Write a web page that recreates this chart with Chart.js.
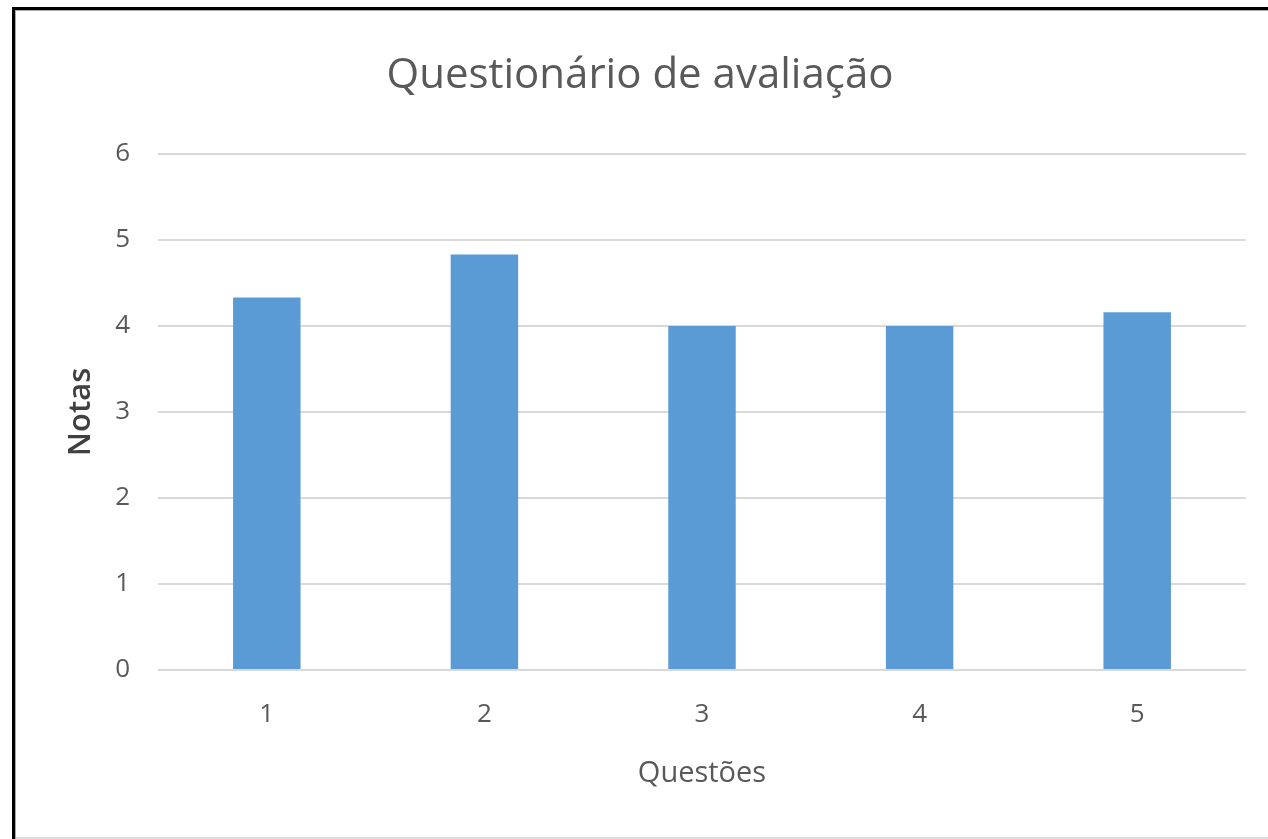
<!DOCTYPE html>
<html>
<head>
<meta charset="utf-8">
<script src="https://cdn.jsdelivr.net/npm/chart.js@4.4.0/dist/chart.umd.min.js"></script>
<style>
  html, body { margin: 0; padding: 0; background: #fff; }
  #wrap { position: relative; width: 1268px; height: 839px; overflow: hidden; }
  canvas { position: absolute; left: 0; top: 0; }
  .ln { position: absolute; pointer-events: none; }
</style>
</head>
<body>
<div id="wrap">
  <canvas id="c" width="1268" height="839"></canvas>
  <div class="ln" style="left:12px;top:7px;width:1256px;height:3px;background:#000"></div>
  <div class="ln" style="left:15px;top:10px;width:1253px;height:1px;background:#aaa"></div>
  <div class="ln" style="left:12px;top:7px;width:3px;height:832px;background:#000"></div>
  <div class="ln" style="left:15px;top:10px;width:1px;height:829px;background:#aaa"></div>
  <div class="ln" style="left:16px;top:837px;width:1252px;height:2px;background:#ddd"></div>
</div>
<script>
const categories = ['1', '2', '3', '4', '5'];
const notas = [4.33, 4.83, 4.0, 4.0, 4.16];
const yTicks = [0, 1, 2, 3, 4, 5, 6];
const chartTitle = 'Questionário de avaliação';
const xTitle = 'Questões';
const yTitle = 'Notas';

const FONT = "'Open Sans', 'Noto Sans', sans-serif";

new Chart(document.getElementById('c'), {
  type: 'bar',
  data: {
    labels: categories,
    datasets: [{
      label: yTitle,
      data: notas,
      backgroundColor: '#5B9BD5',
      borderWidth: 0,
      categoryPercentage: 1,
      barPercentage: 0.31
    }]
  },
  options: {
    responsive: false,
    animation: false,
    devicePixelRatio: 1,
    layout: { padding: { left: 34, right: 22, top: 0, bottom: 0 } },
    plugins: {
      legend: { display: false },
      tooltip: { enabled: false },
      title: {
        display: true,
        text: chartTitle,
        color: '#595959',
        font: { family: FONT, size: 42, weight: '400', lineHeight: 1.2 },
        padding: { top: 51, bottom: 52.6 }
      }
    },
    scales: {
      x: {
        grid: { display: false },
        border: { display: false },
        ticks: { color: '#595959', font: { family: FONT, size: 26 }, padding: 21 },
        title: {
          display: true, text: xTitle, color: '#595959',
          font: { family: FONT, size: 29, weight: '400', lineHeight: 1.2 },
          padding: { top: 0, bottom: 48 }
        },
        afterFit: (s) => { s.height = 169; }
      },
      y: {
        min: 0, max: 6,
        afterBuildTicks: (s) => { s.ticks = yTicks.map(v => ({ value: v })); },
        grid: { color: '#d9d9d9', lineWidth: 2, drawTicks: false },
        border: { display: false },
        ticks: { color: '#595959', font: { family: FONT, size: 26 }, padding: 28 },
        title: {
          display: true, text: yTitle, color: '#404040',
          font: { family: FONT, size: 31, weight: '600', lineHeight: 1.2 },
          padding: { top: 29, bottom: 0 }
        },
        afterFit: (s) => { s.width = 124; }
      }
    }
  }
});
</script>
</body>
</html>
